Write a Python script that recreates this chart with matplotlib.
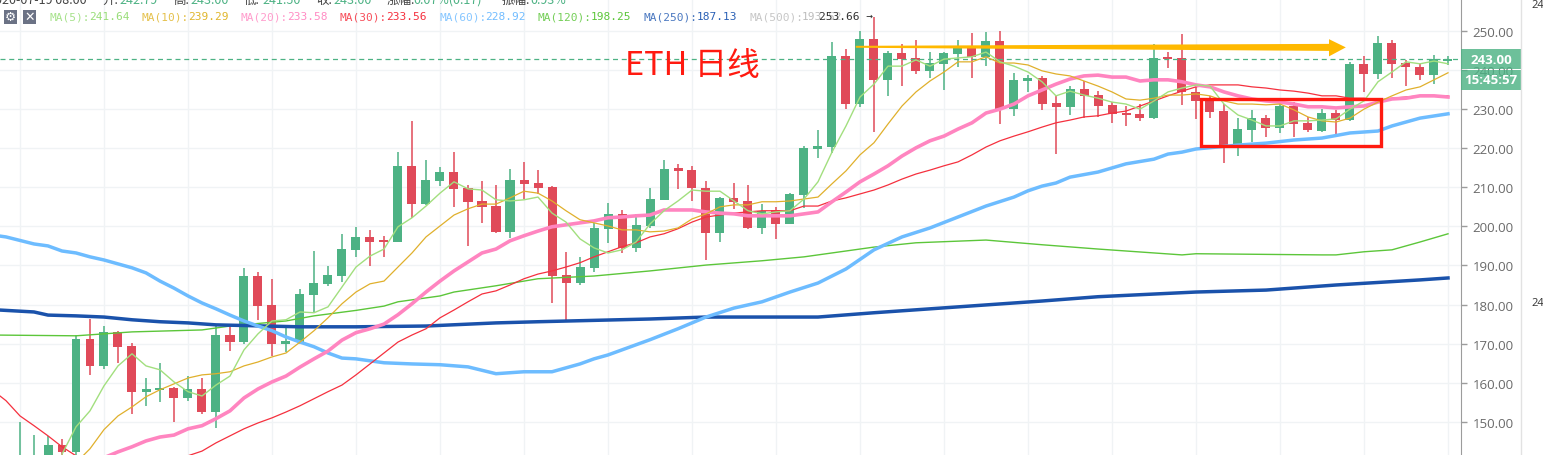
import matplotlib
matplotlib.use("Agg")
from matplotlib import pyplot as plt
from matplotlib.lines import Line2D
from matplotlib.patches import Rectangle
import numpy as np

W, H = 1543, 456
GREEN = "#4db284"
RED = "#e04a59"

# candles start at index 1, one row of ten per line
opens = [135,136,140,144.1,142.3,171.2,164.3,173,169.4,157.7,
         158.2,158.7,156.1,158.4,152.5,172.2,170.4,187.3,179.9,169.9,
         170.4,182.5,185.3,187.3,194,197.3,196.5,196,215.5,205.7,
         211.6,213.9,209.8,206.5,205.2,198.6,211.9,211.1,210.1,187.6,
         185.5,189.4,199.4,203.2,194.5,200.1,206.8,215,214.4,209.8,
         198.3,207.3,206.5,199.6,204.2,200.6,208,219.8,220.3,243.6,
         231.3,248,237.5,244.4,243.1,239.8,241.6,244.1,246.2,243.4,
         247.4,230,237.2,238,231.6,230.6,235.2,233.6,231.1,229,
         228.8,227.7,243.4,243.1,234.4,232.3,229.5,220.8,224.7,227.7,
         225.2,230.8,226.5,224.4,229,227.2,241.6,239,246.9,241.8,
         240.8,238.7,242.3]
closes = [140,140,144.1,142.3,171.2,164.3,173,169.2,157.7,158.4,
          158.7,156.1,158.4,152.5,172.2,170.4,187.3,179.6,169.9,170.7,
          182.7,185.5,187.6,194.2,197.3,196,196,215.5,205.7,211.9,
          213.9,209.6,206.3,205,198.6,211.9,210.9,209.8,187.3,185.5,
          189.6,199.6,203.2,194.5,200.4,207,214.7,214.2,209.8,198.3,
          207.3,206.3,199.6,204,200.6,208.3,220,220.6,243.6,231.3,
          248,237.5,244.4,242.8,239.8,241.8,244.4,246.2,243.4,247.4,
          230,237.5,238,231.3,230.6,235.2,233.4,230.8,228.8,228.5,
          227.7,243.1,242.8,234.4,232.1,229.3,220.8,224.9,227.7,225.2,
          230.8,226.2,224.7,229,227.2,241.6,239,246.9,241.6,240.8,
          238.7,242.8,242.8]
highs = [150,146.6,146.4,145.6,172.2,176.3,174.5,173.3,170.2,161.2,
         165,158.9,161.7,161.2,174.5,174.5,189.4,188.3,186.6,174.3,
         184,193.7,189.9,198.1,199.9,199.1,197.6,219,227,217,
         215.2,219,210.6,211.6,210.6,214.7,216.5,214.4,210.3,193.5,
         192.2,200.9,206,204.2,203.2,209.8,217,216,215.5,211.6,
         207.5,211.1,210.6,205.7,205,208.5,220.6,224.7,247.2,245.4,
         250,253.6,244.9,246.7,247.7,244.6,244.6,247.7,249.5,249.7,
         250,239.3,238.7,238.5,233.4,235.9,237.2,234.6,231.8,230.8,
         231.3,246.7,244.6,249.2,236.4,233.4,231.3,227.7,229.8,228.5,
         231.3,231.8,228,230,229.8,242.1,243.6,248.7,247.7,242.6,
         241.6,243.9,243.6]
lows = [130,130,138,138,141,162,163.5,165.1,152,154.1,
        155.1,150,155.4,152,148.4,168.1,170,176.1,166.9,167.9,
        170,178.1,184.8,185.8,192.2,189.9,192.2,196,202.2,205.5,
        210.3,205,195,200.9,198.3,197.1,207,208.3,180.4,175.8,
        185,188.3,195.8,193.2,193.5,199.6,206.8,209.6,206.5,191.4,
        196,204.5,199.4,198.1,196.8,200.6,204.7,217.5,218.8,230,
        230.6,224.2,233.4,235.9,239,238,234.9,240.8,238,241,
        226.2,228.3,234.4,229.8,218.5,228.5,227.7,228,226.5,225.7,
        227,227.5,240.5,231.1,227.5,227.7,216.2,218,221.6,222.9,
        223.9,222.9,224.2,224.2,223.4,227,234.4,237.7,238,235.9,
        237.5,236.4,241.3]

# moving averages, fast ones have a value per candle and end at index 103
ma5 = [141.7,148.7,152.8,159.2,164.3,167.4,
       164.3,163.3,160.2,157.7,156.6,159.4,161.7,168.4,172.5,175.8,
       176.1,178.1,177.9,179.4,184.5,189.6,192.4,194.2,199.9,202.2,
       205.2,208.5,211.4,209.6,209.3,206.8,206.5,206.8,207.5,203.4,
       201.1,196.8,194.5,193.2,194,196,200.6,204,206.5,209.3,
       209,209,206.5,204,203.2,203.7,204,207,211.4,219,
       225.7,233.1,236.4,241,241,242.6,241,242.8,243.1,243.4,
       244.6,242.1,241,239.5,237,233.4,234.6,233.6,232.8,231.8,
       231.3,230,232.1,234.4,235.4,236.2,235.9,231.3,228.5,227.2,
       225.7,225.7,227,227,227.2,227.5,230,232.1,237,239.5,
       242.1,241.6,242.3,241.6]
ma10 = [139.5,143.1,148,151.5,153.8,
        156.4,158.2,159.7,161.2,162,162.3,162.8,164.3,165.3,166.6,
        167.6,170.4,173.3,176.6,180.2,183.2,185.3,186,189.6,193.2,
        197.3,200.1,202.9,204.5,205.7,205.7,207.3,209,208.5,206.5,
        204,201.7,200.9,200.1,199.1,199.1,198.6,198.8,199.6,201.9,
        203.2,205,205.5,205.5,206.3,206.3,206.5,207,207.5,210.9,
        214.2,218.3,221.4,226.2,230.8,234.4,237.2,239.5,242.1,242.1,
        243.4,241.8,241.8,241.3,239.8,239,238.5,237.2,235.9,234.4,
        232.6,232.3,232.8,233.6,233.6,233.9,233.4,232.1,231.3,231.3,
        231.1,231.3,229.8,228,227,226.7,227.7,230,231.8,233.4,
        234.9,235.7,237.5,239.3]
ma20 = [140.8,142.3,143.6,
        145.1,146.1,146.6,148.2,149,150.8,152.8,156.1,158.4,160.2,
        161.7,164,166.1,168.1,170.9,172.8,173.8,175,177.4,180.2,
        183.2,186,188.6,190.9,193.2,194.2,196.3,197.6,198.8,199.9,
        200.4,200.9,201.4,202.2,202.4,202.7,202.9,204.2,204.2,204.2,
        203.7,203.4,203.2,202.7,202.7,202.7,202.7,203.2,203.7,206.3,
        208.8,211.4,213.4,215.5,218,220.1,221.9,223.1,224.9,226.5,
        229,230,231.3,233.4,234.9,236.4,237.7,238.5,238.7,238.2,
        238.2,237.2,237.5,237.5,237,236.2,235.7,234.4,233.4,232.6,
        232.1,231.8,231.3,230.6,230.6,230.3,230.6,230.8,231.8,232.6,
        232.8,233.4,233.4,233.1]
ma30_head = [158.2,155.4,151.5,149,146.4,143.6,141.3]  # index -1 to 5, then below the chart
ma30_tail = [141.3,142.5,144.6,146.4,148.2,149.7,151,
             152.5,154.1,155.9,157.7,159.4,162,164.8,167.6,170.4,172.2,
             173.8,176.6,178.6,180.7,182.7,183.5,185,186.6,187.8,188.6,
             189.6,190.7,192.2,193.5,194.8,195.8,197.3,198.1,199.4,201.1,
             202.4,202.9,203.4,203.7,204,204,204,205.2,205.2,206.5,
             207.3,208.3,209.3,210.6,212.1,213.4,214.4,215.5,216.5,218.3,
             220.3,221.9,223.1,224.2,225.4,226.5,227.2,228,228.3,229,
             229.5,230.8,232.1,233.4,234.6,235.7,236.2,236.2,236.2,235.7,
             235.4,234.9,234.6,234.1,233.4,233.4,232.8,232.8,232.3,232.8,
             233.1,233.4,233.4,233.4]

# slow ones, read at the candles where they bend
ma60_x = [-1,0,2,3,4,5,6,7,8,9,10,11,12,13,14,15,16,17,18,19,20,21,22,23,24,25,27,29,31,33,35,37,39,40,41,42,43,44,46,48,50,52,54,56,58,60,62,64,66,68,70,72,73,74,75,76,78,80,82,83,84,85,88,90,92,94,96,98,99,100,101,103]
ma60 = [197.8,197.3,195.5,195,193.7,193.2,192.2,191.4,190.4,189.4,188.1,186,184.2,182.2,180.4,178.9,177.3,175.8,174.5,173.3,171.7,170.4,169.2,167.6,166.3,166.1,165.1,164.8,164.6,164.05,162.3,162.8,162.8,163.8,164.8,166.1,167.1,168.4,171,173.8,176.8,179.1,180.7,183.2,185.5,189.1,194,197.3,199.6,202.4,205.2,207.5,209.1,210.3,211.1,212.6,213.9,216,217.2,218.5,219,219.8,220.8,221.3,222.1,222.6,223.9,224.4,225.7,226.7,227.7,228.8]
ma120_x = [-1,5,9,14,16,20,22,25,27,28,31,32,35,38,42,46,50,54,57,62,65,70,74,78,84,85,94,95,97,99,101,103]
ma120 = [172.2,172,173,173.5,174.5,175.8,177.1,178.5,179.6,180.7,182.2,183.2,184.8,186.6,187.3,188.6,190.1,191.2,192.2,194.7,195.8,196.5,195.3,194.2,192.7,193,192.7,192.7,193.5,194,196,198.1]
ma250_x = [-1,2,3,5,7,9,11,13,15,21,25,30,35,38,46,50,56,58,62,68,74,78,85,90,95,101,103]
ma250 = [178.7,178.1,177.3,177.1,176.8,176.1,175.6,175.3,174.8,174.3,174.3,174.5,175.3,175.6,176.3,176.8,176.8,176.8,177.9,179.4,180.9,182,183.2,183.7,185,186.3,186.8]

last_line = 242.7
legend_names = ["MA(5):", "MA(10):", "MA(20):", "MA(30):", "MA(60):", "MA(120):", "MA(250):", "MA(500):"]
legend_values = ["241.64", "239.29", "233.58", "233.56", "228.92", "198.25", "187.13", "193.52"]
legend_colors = ["#98dd78", "#e0b62c", "#ff8cc4", "#f5303e", "#72bdff", "#5cc63a", "#2a60b5", "#bdbdbd"]
legend_x = [50, 142, 241, 340, 439, 538, 644, 749]
header_labels = ["开:", "高:", "低:", "收:", "涨幅:", "振幅:"]
header_values = ["242.79", "243.00", "241.50", "243.00", "0.07%(0.17)", "0.93%"]
header_x = [102, 173, 244, 316, 387, 502]
header_val_x = [119, 190, 262, 333, 413, 530]
price_ticks = np.arange(150, 260, 10)


def fx(px):
    return px / W


def fy(py):
    return 1 - py / H


fig = plt.figure(figsize=(W / 100, H / 100), dpi=100)
ax = fig.add_axes([0, 0, 1461 / W, 1])
ax.set_xlim(-6 / 14, 1455 / 14)
ax.set_ylim(141.5, 258.18)

for s in ["top", "left", "bottom"]:
    ax.spines[s].set_visible(False)
ax.spines["right"].set_color("#9c9c9c")
ax.yaxis.tick_right()
ax.set_yticks(price_ticks)
ax.set_yticklabels(["%.2f" % p for p in price_ticks], family="Open Sans", fontsize=9.5, color="#6a6a6a")
ax.tick_params(axis="y", length=4.5, width=1, color="#9c9c9c", pad=4)
ax.set_xticks(np.arange(1, 104, 6))
ax.tick_params(axis="x", length=0, labelbottom=False)
ax.grid(True, color="#f0f3f5", lw=1)
ax.set_axisbelow(True)

idx = np.arange(1, 104)
o = np.array(opens)
c = np.array(closes)
up = c >= o
colors = np.where(up, GREEN, RED)
ax.vlines(idx, lows, highs, colors=colors, lw=1.1, zorder=2)
ax.bar(idx, np.abs(c - o), bottom=np.minimum(o, c), width=9 / 14, color=colors, zorder=2.1)

ax.axhline(last_line, color=GREEN, lw=0.9, dashes=(4, 3), zorder=2.2)


def tail_x(values):
    return np.arange(104 - len(values), 104)


ax.plot(ma120_x, ma120, color="#5cc63a", lw=1, zorder=3)
ax.plot(ma250_x, ma250, color="#1a52ab", lw=2.5, zorder=3)
ax.plot(ma60_x, ma60, color="#6dbcff", lw=2.5, zorder=3)
ax.plot(np.arange(-1, 6), ma30_head, color="#f5303e", lw=0.9, zorder=3)
ax.plot(tail_x(ma30_tail), ma30_tail, color="#f5303e", lw=0.9, zorder=3)
ax.plot(tail_x(ma20), ma20, color="#ff85c0", lw=2.6, zorder=3.1)
ax.plot(tail_x(ma10), ma10, color="#e0b02c", lw=0.9, zorder=3.2)
ax.plot(tail_x(ma5), ma5, color="#a2df7e", lw=1, zorder=3.3)

# hand drawn marks on top of the chart
ax.fill([60.7, 94.5, 94.5, 95.7, 94.5, 94.5, 60.7],
        [246.2, 246.7, 247.9, 245.8, 243.5, 244.9, 245.7],
        color="#ffb900", lw=0, zorder=4)
ax.add_patch(Rectangle((85.36, 220.6), 12.86, 12.0, fill=False, ec="#ff1a10", lw=2.4, zorder=4.1))
ax.text(44.2, 241.3, "ETH 日线", color="#ff1a10", fontsize=23.5, va="center", ha="left",
        family=["Noto Sans CJK SC", "DejaVu Sans"], zorder=4.2)

# header rows, the first one is cut by the top of the picture
cjk = ["Noto Sans CJK SC", "DejaVu Sans"]
fig.text(fx(-12), fy(4), "2020-07-19 08:00", color="#444444", fontsize=9, family=cjk, va="baseline")
for lab, val, lx, vx in zip(header_labels, header_values, header_x, header_val_x):
    fig.text(fx(lx), fy(4), lab, color="#444444", fontsize=9, family=cjk, va="baseline")
    fig.text(fx(vx), fy(4), val, color=GREEN, fontsize=9, family=cjk, va="baseline")

for name, val, col, lx in zip(legend_names, legend_values, legend_colors, legend_x):
    fig.text(fx(lx), fy(17.5), name, color=col, alpha=0.85, fontsize=8, family="DejaVu Sans Mono", va="center")
    fig.text(fx(lx + 6.6 * len(name)), fy(17.5), val, color=col, fontsize=8, family="DejaVu Sans Mono", va="center")
fig.text(fx(819), fy(17.5), "253.66 →", color="#333333", fontsize=8, family="DejaVu Sans Mono", va="center")

for bx, sym in [(3.5, "\u2699"), (22.5, "\u2715")]:
    fig.add_artist(Rectangle((fx(bx), fy(25)), 13.5 / W, 14.5 / H, color="#6b7285", lw=0,
                             transform=fig.transFigure))
    fig.text(fx(bx + 6.75), fy(17.7), sym, color="white", fontsize=9, ha="center", va="center",
             family="DejaVu Sans", fontweight="bold")

# price tag and countdown on the axis
for top, bottom, label in [(50, 70, "243.00"), (71, 91, "15:45:57")]:
    fig.add_artist(Rectangle((fx(1461), fy(bottom)), 60 / W, (bottom - top) / H, color=GREEN, alpha=0.82, lw=0,
                             transform=fig.transFigure))
    fig.text(fx(1491), fy((top + bottom) / 2), label, color="white", fontsize=9.5, fontweight="bold",
             family="Open Sans", ha="center", va="center")

fig.add_artist(Line2D([fx(1521), fx(1521)], [0, 1], color="#e2e2e2", lw=1))
fig.text(fx(1531), fy(5), "24", color="#333333", fontsize=8, family="Open Sans", va="center")
fig.text(fx(1531), fy(303), "24", color="#333333", fontsize=8, family="Open Sans", va="center")

fig.savefig("out.png", dpi=100)
